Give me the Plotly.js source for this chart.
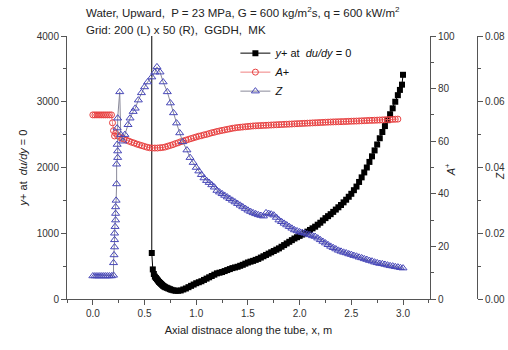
<!DOCTYPE html>
<html>
<head>
<meta charset="utf-8">
<script src="https://cdn.plot.ly/plotly-3.0.1.min.js"></script>
<style>html,body{margin:0;padding:0;background:#fff;}#chart{width:508px;height:350px;}</style>
</head>
<body>
<div id="chart"></div>
<script>
// y+ at du/dy = 0 (left axis)
const yplusX = [0.57,0.57,0.58,0.59,0.60,0.61,0.62,0.63,0.64,0.65,0.66,0.67,0.68,0.69,0.70,0.715,0.73,0.745,0.76,0.78,0.80,0.825,0.85,0.875,0.90,0.925,0.95,0.975,1.00,1.025,1.05,1.075,1.10,1.125,1.15,1.175,1.20,1.225,1.25,1.275,1.30,1.325,1.35,1.375,1.40,1.425,1.45,1.475,1.50,1.525,1.55,1.575,1.60,1.625,1.65,1.675,1.70,1.725,1.75,1.775,1.80,1.825,1.85,1.875,1.90,1.925,1.95,1.975,2.00,2.025,2.05,2.075,2.10,2.125,2.15,2.175,2.20,2.225,2.25,2.275,2.30,2.325,2.35,2.375,2.40,2.425,2.45,2.475,2.50,2.525,2.55,2.575,2.60,2.625,2.65,2.675,2.70,2.725,2.75,2.775,2.80,2.825,2.85,2.875,2.90,2.925,2.95,2.97,2.99,3.00];
const yplusY = [6000,700,450,380,340,320,300,280,260,245,230,215,200,190,180,170,160,150,140,132,125,125,130,145,160,180,200,220,240,255,270,290,310,330,350,370,390,400,410,425,440,455,470,480,490,505,520,538,555,568,580,595,610,630,650,670,690,710,730,750,770,795,820,845,870,895,920,940,960,980,1000,1025,1050,1075,1100,1130,1160,1195,1230,1260,1290,1325,1360,1395,1430,1470,1510,1555,1600,1655,1710,1780,1850,1925,2000,2085,2170,2260,2350,2445,2540,2630,2720,2810,2900,3000,3100,3180,3260,3410];

// A+ (right axis 1)
const apX = [0.00,0.02,0.04,0.06,0.08,0.10,0.12,0.14,0.16,0.18,0.19,0.20,0.21,0.22,0.24,0.26,0.28,0.30,0.325,0.35,0.375,0.40,0.425,0.45,0.475,0.50,0.525,0.55,0.575,0.60,0.625,0.65,0.675,0.70,0.725,0.75,0.775,0.80,0.825,0.85,0.875,0.90,0.925,0.95,0.975,1.00,1.025,1.05,1.075,1.10,1.125,1.15,1.175,1.20,1.225,1.25,1.275,1.30,1.325,1.35,1.375,1.40,1.425,1.45,1.475,1.50,1.525,1.55,1.575,1.60,1.625,1.65,1.675,1.70,1.725,1.75,1.775,1.80,1.825,1.85,1.875,1.90,1.925,1.95,1.975,2.00,2.025,2.05,2.075,2.10,2.125,2.15,2.175,2.20,2.225,2.25,2.275,2.30,2.325,2.35,2.375,2.40,2.425,2.45,2.475,2.50,2.525,2.55,2.575,2.60,2.625,2.65,2.675,2.70,2.725,2.75,2.775,2.80,2.825,2.85,2.875,2.90,2.925,2.95,2.975,3.00];
const apY = [70,70,70,70,70,70,70,70,70,70,67,64,62,63,62,61.5,61.1,60.8,60.4,60,59.6,59.3,58.9,58.6,58.3,58,57.7,57.5,57.4,57.4,57.4,57.5,57.6,57.8,58.1,58.4,58.7,59.1,59.4,59.8,60.1,60.4,60.7,61,61.3,61.6,61.9,62.1,62.4,62.6,62.9,63.2,63.4,63.7,63.9,64.1,64.3,64.5,64.7,64.9,65.05,65.2,65.3,65.4,65.5,65.6,65.7,65.8,65.85,65.9,65.95,66,66.05,66.1,66.15,66.2,66.25,66.3,66.35,66.4,66.45,66.5,66.55,66.6,66.65,66.7,66.75,66.8,66.85,66.9,66.95,67,67.05,67.1,67.15,67.2,67.25,67.3,67.33,67.36,67.4,67.43,67.46,67.5,67.55,67.6,67.63,67.66,67.7,67.75,67.8,67.85,67.9,67.93,67.96,68,68.05,68.1,68.15,68.2,68.25,68.3,68.35,68.4];

// Z (right axis 2)
const zX = [0.00,0.02,0.04,0.06,0.08,0.10,0.12,0.14,0.16,0.18,0.20,0.20,0.205,0.21,0.21,0.21,0.215,0.22,0.22,0.22,0.225,0.23,0.23,0.24,0.24,0.235,0.235,0.24,0.26,0.27,0.29,0.31,0.34,0.36,0.39,0.41,0.44,0.47,0.50,0.53,0.57,0.60,0.62,0.65,0.68,0.72,0.75,0.78,0.81,0.84,0.87,0.91,0.94,0.97,1.00,1.025,1.05,1.075,1.10,1.125,1.15,1.175,1.20,1.225,1.25,1.275,1.30,1.325,1.35,1.375,1.40,1.425,1.45,1.475,1.50,1.525,1.55,1.575,1.60,1.625,1.65,1.675,1.70,1.725,1.75,1.775,1.80,1.825,1.85,1.875,1.90,1.925,1.95,1.975,2.00,2.025,2.05,2.075,2.10,2.125,2.15,2.175,2.20,2.225,2.25,2.275,2.30,2.325,2.35,2.375,2.40,2.425,2.45,2.475,2.50,2.525,2.55,2.575,2.60,2.625,2.65,2.675,2.70,2.725,2.75,2.775,2.80,2.825,2.85,2.875,2.90,2.925,2.95,2.975,3.00];
const zY = [0.0070,0.0070,0.0070,0.0070,0.0070,0.0070,0.0070,0.0070,0.0070,0.0070,0.0072,0.011,0.0134,0.0158,0.018,0.020,0.022,0.024,0.026,0.028,0.030,0.035,0.041,0.043,0.045,0.047,0.052,0.055,0.063,0.050,0.048,0.050,0.053,0.055,0.057,0.058,0.0605,0.0627,0.0645,0.066,0.0675,0.069,0.0706,0.069,0.066,0.063,0.0596,0.0566,0.0535,0.0505,0.0478,0.0453,0.043,0.0415,0.040,0.0389,0.0378,0.0368,0.036,0.0354,0.0347,0.034,0.033,0.0325,0.032,0.0315,0.031,0.0305,0.030,0.0295,0.029,0.0285,0.028,0.0275,0.027,0.0266,0.0262,0.0259,0.0256,0.0254,0.0252,0.0262,0.026,0.0258,0.0255,0.0248,0.024,0.0235,0.023,0.0225,0.022,0.0215,0.021,0.0207,0.0204,0.0202,0.020,0.0197,0.0195,0.0192,0.019,0.0185,0.018,0.0175,0.017,0.0165,0.016,0.0156,0.0152,0.0148,0.0145,0.0142,0.014,0.0137,0.0135,0.0132,0.013,0.0127,0.0125,0.0122,0.012,0.0117,0.0115,0.0112,0.011,0.0108,0.0107,0.0105,0.0103,0.0101,0.010,0.0098,0.0097,0.0095,0.0094];

const xTicks = [0.0,0.5,1.0,1.5,2.0,2.5,3.0];
const xTickText = ['0.0','0.5','1.0','1.5','2.0','2.5','3.0'];

const FONT = 'Liberation Sans, Arial, sans-serif';
const axCol = '#555';

const traces = [
  {x: yplusX, y: yplusY, name: '<i>y</i>+ at  <i>du/dy</i> = 0', type: 'scatter', mode: 'lines+markers',
   line: {color: '#000', width: 1}, marker: {symbol: 'square', size: 6, color: '#000'}, yaxis: 'y'},
  {x: apX, y: apY, name: '<i>A</i>+', type: 'scatter', mode: 'lines+markers',
   line: {color: '#f08080', width: 1}, marker: {symbol: 'circle-open', size: 6, color: '#e84040', line: {width: 1}}, yaxis: 'y2'},
  {x: zX, y: zY, name: '<i>Z</i>', type: 'scatter', mode: 'lines+markers',
   line: {color: '#8a8a9a', width: 1}, marker: {symbol: 'triangle-up-open', size: 7, color: '#4848b8', line: {width: 1}}, yaxis: 'y3'}
];

const commonAxis = {
  showgrid: false, zeroline: false, showline: true, linecolor: axCol, linewidth: 1,
  ticks: 'outside', ticklen: 5, tickcolor: axCol, tickwidth: 1,
  tickfont: {family: FONT, size: 10, color: '#333'}
};

const layout = {
  width: 508, height: 350,
  margin: {l: 67, r: 20, t: 36, b: 51},
  paper_bgcolor: '#fff', plot_bgcolor: '#fff',
  font: {family: FONT, color: '#222'},
  showlegend: true,
  legend: {x: 0.40, y: 0.99, xanchor: 'left', yanchor: 'top', bgcolor: 'rgba(0,0,0,0)',
           font: {family: FONT, size: 11, color: '#111'}, tracegroupgap: 0},
  xaxis: Object.assign({}, commonAxis, {
    domain: [0, 0.862], range: [-0.25, 3.26], tickvals: xTicks, ticktext: xTickText,
    minor: {ticks: 'outside', ticklen: 3, dtick: 0.25, tick0: 0, tickcolor: axCol},
    title: {text: 'Axial distnace along the tube, x, m', font: {family: FONT, size: 11, color: '#222'}, standoff: 8}
  }),
  yaxis: Object.assign({}, commonAxis, {
    range: [0, 4000], dtick: 1000, tick0: 0,
    minor: {ticks: 'outside', ticklen: 3, dtick: 500, tickcolor: axCol},
    title: {text: '<i>y</i>+ at  <i>du/dy</i> = 0', font: {family: FONT, size: 11, color: '#222'}, standoff: 6}
  }),
  yaxis2: Object.assign({}, commonAxis, {
    overlaying: 'y', side: 'right', anchor: 'x', range: [0, 100], dtick: 20,
    minor: {ticks: 'outside', ticklen: 3, dtick: 10, tickcolor: axCol}
  }),
  yaxis3: Object.assign({}, commonAxis, {
    overlaying: 'y', side: 'right', anchor: 'free', position: 0.974, range: [0, 0.08], dtick: 0.02,
    tickformat: '.2f',
    minor: {ticks: 'outside', ticklen: 3, dtick: 0.01, tickcolor: axCol}
  }),
  annotations: [
    {xref: 'paper', yref: 'paper', x: 0.04, y: 1.0, yshift: 24, xanchor: 'left', yanchor: 'middle', showarrow: false,
     text: 'Water, Upward,  P = 23 MPa, G = 600 kg/m<sup>2</sup>s, q = 600 kW/m<sup>2</sup>',
     font: {family: FONT, size: 11.5, color: '#222'}},
    {xref: 'paper', yref: 'paper', x: 0.04, y: 1.0, yshift: 6, xanchor: 'left', yanchor: 'middle', showarrow: false,
     text: 'Grid: 200 (L) x 50 (R),  GGDH,  MK',
     font: {family: FONT, size: 11.5, color: '#222'}},
    {xref: 'paper', yref: 'paper', x: 0.910, y: 0.49, xanchor: 'center', yanchor: 'middle', showarrow: false,
     textangle: -90, text: '<i>A</i><sup>+</sup>', font: {family: FONT, size: 11, color: '#222'}},
    {xref: 'paper', yref: 'paper', x: 1.0475, y: 0.47, xanchor: 'right', yanchor: 'middle', showarrow: false,
     textangle: -90, text: '<i>Z</i>', font: {family: FONT, size: 10, color: '#222'}}
  ]
};

Plotly.newPlot('chart', traces, layout, {displayModeBar: false, staticPlot: true});
</script>
</body>
</html>
